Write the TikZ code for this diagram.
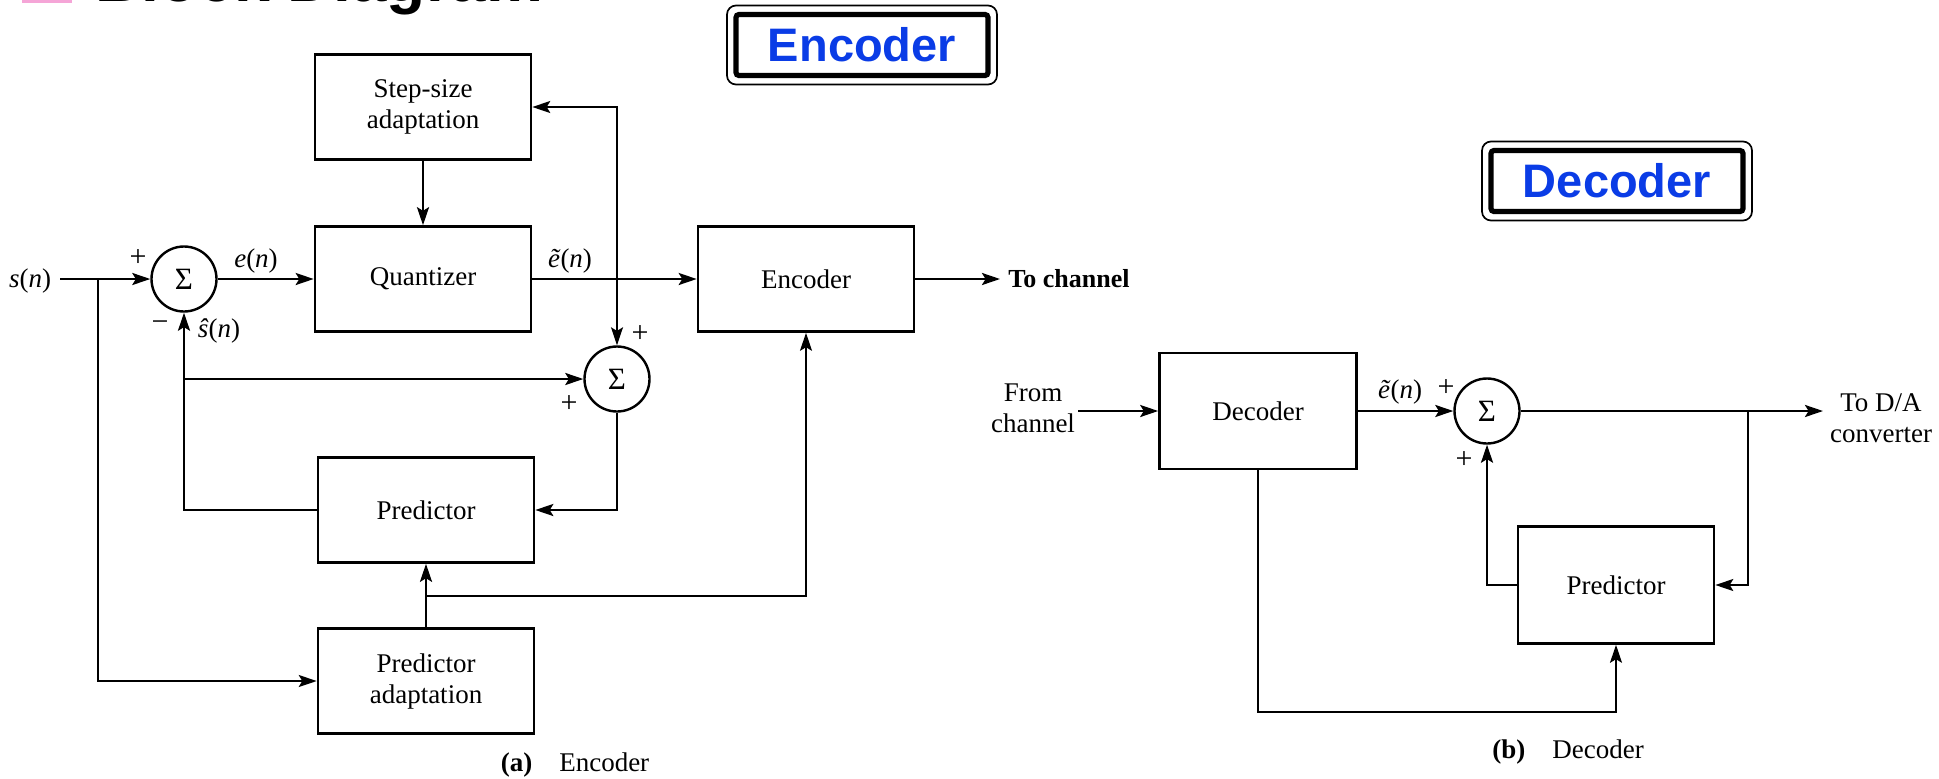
\documentclass[tikz,border=0pt]{standalone}
\usepackage{fontspec}
\setmainfont{Liberation Serif}
\newfontfamily\headfont{Liberation Sans}
\usetikzlibrary{arrows.meta}
\definecolor{titleblue}{RGB}{10,60,230}
\definecolor{bulletpink}{RGB}{245,165,215}

\begin{document}
\begin{tikzpicture}[x=0.5pt,y=-0.5pt,
  every node/.style={font=\fontsize{13.5}{15.5}\selectfont, align=center},
  blk/.style={draw, line width=1.3pt, minimum width=108pt, minimum height=52.5pt, inner sep=0pt},
  sumnode/.style={draw, circle, line width=1.2pt, minimum size=32.5pt, inner sep=0pt,
    font=\fontsize{15.5}{17}\selectfont},
  sig/.style={line width=1.3pt},
  thinsig/.style={line width=0.85pt},
  arr/.style={-{Stealth[length=9pt,width=6pt,inset=1.8pt]}},
  lbl/.style={inner sep=0pt},
  titlebox/.style={draw, line width=2.6pt, rounded corners=1.5pt, minimum width=126pt,
    minimum height=30.5pt, inner sep=0pt, text=titleblue,
    font=\headfont\bfseries\fontsize{23.5}{26}\selectfont},
  frame/.style={line width=0.85pt, rounded corners=4.5pt},
]
\useasboundingbox (0,0) rectangle (1939,778);
\fill[white] (0,0) rectangle (1939,778);

% page heading, running off the top edge
\fill[bulletpink] (22,-40) rectangle (72,3);
\node[anchor=base west, inner sep=0pt, font=\headfont\bfseries\fontsize{32}{36}\selectfont] (head) at (95,1) {Block Diagram};

% section titles
\node[titlebox] (enct) at (862,45) {Encoder};
\draw[frame] ([shift={(-3.2pt,-3.2pt)}]enct.south west) rectangle ([shift={(3.2pt,3.2pt)}]enct.north east);
\node[titlebox] (dect) at (1617,181) {Decoder};
\draw[frame] ([shift={(-3.2pt,-3.2pt)}]dect.south west) rectangle ([shift={(3.2pt,3.2pt)}]dect.north east);

% ---------------- encoder ----------------
\node[blk] (stepsz) at (423,107) {Step-size\\adaptation};
\node[blk] (quant) at (423,279) {Quantizer};
\node[blk] (enc) at (806,279) {Encoder};
\node[blk] (pred) at (426,510) {Predictor};
\node[blk] (padapt) at (426,681) {Predictor\\adaptation};
\node[sumnode] (sum1) at (184,279) {Σ};
\node[sumnode] (sum2) at (617,379) {Σ};

\coordinate (sin) at (60,279);
\coordinate (j1) at (617,279);
\coordinate (j2) at (184,379);
\coordinate (j3) at (98,279);
\coordinate (j4) at (806,596);
\coordinate (pj) at (426,596);
\coordinate (tochan) at (1000,279);

\node[lbl] (sn) at (30,281) {\textit{s}(\textit{n})};
\node[lbl, font=\fontsize{15}{17}\selectfont] (p1) at (138,258) {+};
\node[lbl, font=\fontsize{15}{17}\selectfont] (m1) at (160,326) {−};
\node[lbl] (en) at (256,261) {\textit{e}(\textit{n})};
\node[lbl] (etn) at (570,261) {\textit{\~e}(\textit{n})};
\node[lbl] (shn) at (219,331) {\textit{\^s}(\textit{n})};
\node[lbl, font=\fontsize{15}{17}\selectfont] (p2) at (640,334) {+};
\node[lbl, font=\fontsize{15}{17}\selectfont] (p3) at (569,404) {+};
\node[anchor=west, inner sep=0pt, font=\bfseries\fontsize{13}{15}\selectfont] (tch) at (1008,279) {To channel};

\draw[sig,arr] (sin) -- (sum1);
\draw[sig,arr] (sum1) -- (quant);
\draw[sig,arr] (stepsz) -- (quant);
\draw[sig,arr] (quant) -- (enc);
\draw[sig,arr] (enc) -- (tochan);
\draw[thinsig,arr] (j1) |- (stepsz.east);
\draw[thinsig,arr] (j1) -- (sum2);
\draw[sig,arr] (sum2.south) |- (pred.east);
\draw[sig,arr] (pred.west) -| (sum1.south);
\draw[sig,arr] (j2) -- (sum2.west);
\draw[thinsig,arr] (j3) |- (padapt.west);
\draw[sig,arr] (padapt) -- (pred);
\draw[thinsig,arr] (pj) -- (j4) -- (enc.south);

\node (capa) at (575,765) {\textbf{(a)}\quad Encoder};

% ---------------- decoder ----------------
\node[blk, minimum width=98.5pt, minimum height=58pt] (dec) at (1258,411) {Decoder};
\node[sumnode] (sum3) at (1487,411) {Σ};
\node[blk, minimum width=98pt, minimum height=58.5pt] (pred2) at (1616,585) {Predictor};

\coordinate (fc) at (1078,411);
\coordinate (toda) at (1823,411);
\coordinate (j5) at (1748,411);
\coordinate (c6) at (1258,712);

\node (fromch) at (1033,408) {From\\channel};
\node (todatext) at (1881,418) {To D/A\\converter};
\node[lbl] (etn2) at (1400,392) {\textit{\~e}(\textit{n})};
\node[lbl, font=\fontsize{15}{17}\selectfont] (p4) at (1446,388) {+};
\node[lbl, font=\fontsize{15}{17}\selectfont] (p5) at (1464,460) {+};

\draw[sig,arr] (fc) -- (dec);
\draw[sig,arr] (dec) -- (sum3);
\draw[sig,arr] (sum3) -- (toda);
\draw[thinsig,arr] (j5) |- (pred2.east);
\draw[sig,arr] (pred2.west) -| (sum3.south);
\draw[thinsig,arr] (dec.south) -- (c6) -| (pred2.south);

\node (capb) at (1568,752) {\textbf{(b)}\quad Decoder};
\end{tikzpicture}
\end{document}
